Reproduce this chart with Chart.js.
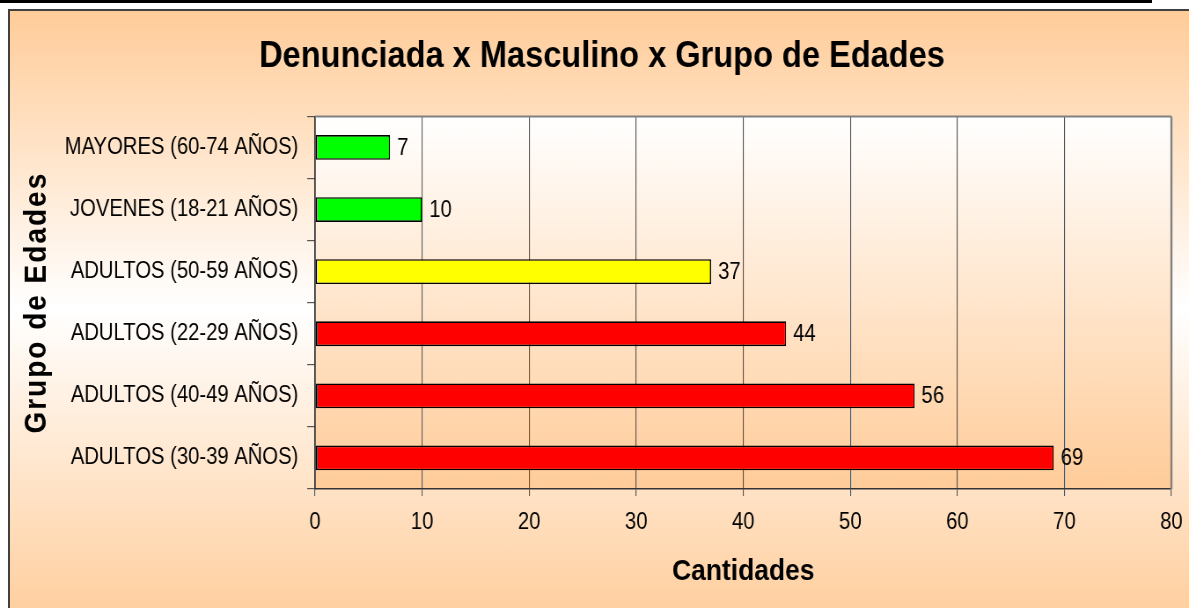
<!DOCTYPE html>
<html>
<head>
<meta charset="utf-8">
<script src="https://cdn.jsdelivr.net/npm/chart.js@4.4.1/dist/chart.umd.min.js"></script>
<style>
    html, body { margin: 0; padding: 0; background: #ffffff; }
    #wrap { position: relative; width: 1189px; height: 608px; overflow: hidden; }
    #topline { position: absolute; left: 0; top: 0; width: 1152px; height: 3px; background: #000; }
    #box {
        position: absolute; left: 8px; top: 9px; width: 1200px; height: 620px;
        border-left: 2px solid #404040; border-top: 2px solid #404040;
        background: linear-gradient(to bottom, #ffcc99 0%, #ffffff 48%, #ffcc99 100%);
    }
    #chart { position: absolute; left: 0; top: 0; }
</style>
</head>
<body>
<div id="wrap">
    <div id="topline"></div>
    <div id="box"></div>
    <!-- el lienzo se dibuja más ancho y se comprime en horizontal, como la imagen original -->
    <canvas id="chart" width="1351" height="608" style="width:1189px;height:608px"></canvas>
</div>
<script>
    // Datos del gráfico
    const categorias = [
        "MAYORES (60-74 AÑOS)",
        "JOVENES (18-21 AÑOS)",
        "ADULTOS (50-59 AÑOS)",
        "ADULTOS (22-29 AÑOS)",
        "ADULTOS (40-49 AÑOS)",
        "ADULTOS (30-39 AÑOS)"
    ];
    const cantidades = [7, 10, 37, 44, 56, 69];
    const colores = ["#00ff00", "#00ff00", "#ffff00", "#ff0000", "#ff0000", "#ff0000"];
    const ejeX = { min: 0, max: 80, paso: 10 };

    const titulo = "Denunciada x Masculino x Grupo de Edades";
    const tituloX = "Cantidades";
    const tituloY = "Grupo de Edades";

    const fuente = "'Liberation Sans', Arial, sans-serif";
    const escalaX = 1189 / 1351;

    // Fondo degradado del área de trazado y borde superior/derecho
    const fondoArea = {
        id: "fondoArea",
        beforeDraw(chart) {
            const { ctx, chartArea: a } = chart;
            const g = ctx.createLinearGradient(0, a.top, 0, a.bottom);
            g.addColorStop(0, "#ffffff");
            g.addColorStop(1, "#ffcc99");
            ctx.save();
            ctx.fillStyle = g;
            ctx.fillRect(a.left, a.top, a.right - a.left, a.bottom - a.top);
            ctx.restore();
        },
        afterDraw(chart) {
            const { ctx, chartArea: a } = chart;
            ctx.save();
            ctx.strokeStyle = "#808080";
            ctx.lineWidth = 2;
            ctx.beginPath();
            ctx.moveTo(a.left, a.top);
            ctx.lineTo(a.right, a.top);
            ctx.stroke();
            ctx.lineWidth = 2.4;
            ctx.beginPath();
            ctx.moveTo(a.right, a.top);
            ctx.lineTo(a.right, a.bottom);
            ctx.stroke();

            // título del eje Y con espaciado de letras
            ctx.translate(37 / escalaX, (a.top + a.bottom) / 2);
            ctx.rotate(-Math.PI / 2);
            ctx.scale(1, 1.08 / escalaX);
            ctx.font = "bold 28px " + fuente;
            ctx.letterSpacing = "2px";
            ctx.fillStyle = "#000";
            ctx.textAlign = "center";
            ctx.textBaseline = "middle";
            ctx.fillText(tituloY, 0, 0);
            ctx.restore();
        }
    };

    // Etiquetas de valores al final de cada barra
    const etiquetas = {
        id: "etiquetas",
        afterDatasetsDraw(chart) {
            const { ctx } = chart;
            const meta = chart.getDatasetMeta(0);
            ctx.save();
            ctx.font = "23px " + fuente;
            ctx.fillStyle = "#000";
            ctx.textAlign = "left";
            ctx.textBaseline = "middle";
            meta.data.forEach((bar, i) => {
                ctx.fillText(String(cantidades[i]), bar.x + 8, bar.y + 1);
            });
            ctx.restore();
        }
    };

    const ctx = document.getElementById("chart").getContext("2d");

    new Chart(ctx, {
        type: "bar",
        data: {
            labels: categorias,
            datasets: [{
                data: cantidades,
                backgroundColor: colores,
                borderColor: "#000000",
                borderWidth: 1.6,
                borderSkipped: false,
                barPercentage: 1,
                categoryPercentage: 0.4
            }]
        },
        options: {
            indexAxis: "y",
            responsive: false,
            devicePixelRatio: 1,
            animation: false,
            layout: {
                padding: { left: 37, right: 20, top: 0, bottom: 0 }
            },
            scales: {
                x: {
                    min: ejeX.min,
                    max: ejeX.max,
                    ticks: {
                        stepSize: ejeX.paso,
                        color: "#000",
                        font: { family: fuente, size: 23 },
                        padding: 13,
                        maxRotation: 0
                    },
                    grid: {
                        color: "#555555",
                        lineWidth: 1.1,
                        tickLength: 7
                    },
                    border: { color: "#333333", width: 1.5 },
                    title: {
                        display: true,
                        text: tituloX,
                        color: "#000",
                        font: { family: fuente, size: 30, weight: "bold" },
                        padding: { top: 0, bottom: 18 }
                    },
                    afterFit(scale) {
                        scale.height = 119;
                        scale.paddingLeft = 0;
                        scale.paddingRight = 0;
                    }
                },
                y: {
                    ticks: {
                        color: "#000",
                        font: { family: fuente, size: 23 },
                        padding: 10
                    },
                    grid: {
                        offset: true,
                        drawOnChartArea: false,
                        color: "#555555",
                        lineWidth: 1.2,
                        tickLength: 9
                    },
                    border: { color: "#333333", width: 1.7 },
                    afterFit(scale) { scale.width = 321; }
                }
            },
            plugins: {
                legend: { display: false },
                tooltip: { enabled: false },
                title: {
                    display: true,
                    text: titulo,
                    color: "#000",
                    font: { family: fuente, size: 37, weight: "bold" },
                    padding: { top: 35, bottom: 37 }
                }
            }
        },
        plugins: [fondoArea, etiquetas]
    });
</script>
</body>
</html>
